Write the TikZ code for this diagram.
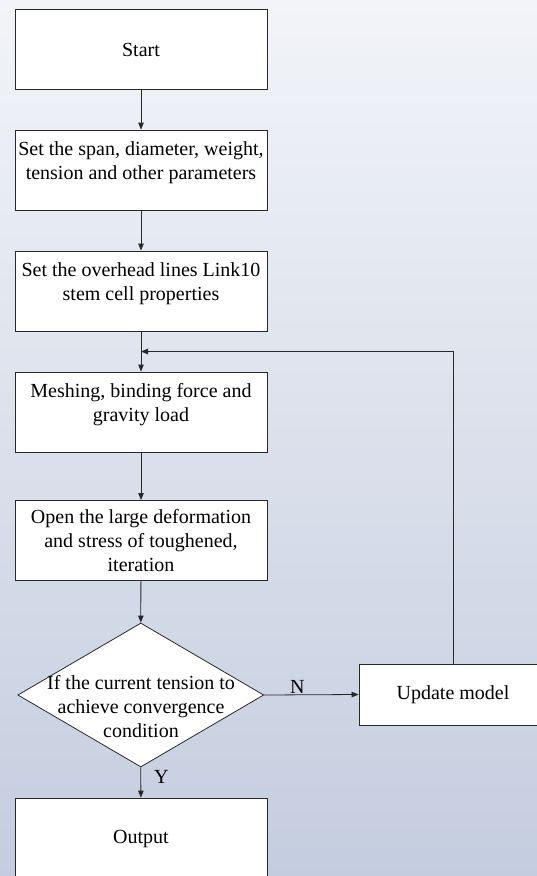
\documentclass[tikz,border=0pt]{standalone}
\usepackage{fontspec}
\setmainfont{Liberation Serif}
\usetikzlibrary{arrows.meta,shapes.geometric,calc}
\definecolor{bgtop}{RGB}{242,244,248}
\definecolor{bgbot}{RGB}{196,205,223}
\definecolor{edge}{RGB}{40,40,40}
\begin{document}
\begin{tikzpicture}[x=1pt,y=-1pt,
  every node/.style={font=\fontsize{20}{24}\selectfont, text=black},
  procbox/.style={draw=edge, line width=0.8pt, fill=white, rectangle,
    minimum width=252pt, minimum height=80pt, inner sep=0pt, align=center},
  decision/.style={draw=edge, line width=0.8pt, fill=white, diamond,
    minimum width=246pt, minimum height=144pt, inner sep=0pt},
  flow/.style={draw=edge, line width=0.8pt, -{Triangle[length=7pt,width=5.5pt]}},
  tag/.style={inner sep=1pt}]
  % page and background
  \useasboundingbox (0,0) rectangle (537,876);
  \shade[top color=bgtop, bottom color=bgbot] (0,0) rectangle (537,876);

  % main column (two-line boxes keep their text near the top)
  \node[procbox] (start) at (141,49.5) {Start};
  \node[procbox] (b2) at (141,170) {Set the span, diameter, weight,\\tension and other parameters\\[-12pt]\strut};
  \node[procbox] (b3) at (141,291) {Set the overhead lines Link10\\stem cell properties\\[-12pt]\strut};
  \node[procbox] (b4) at (141,412) {Meshing, binding force and\\gravity load\\[-12pt]\strut};
  \node[procbox] (b5) at (141,540.5) {Open the large deformation\\and stress of toughened,\\iteration};
  \node[decision] (dec) at (140.8,695) {};
  \node[align=center, inner sep=0pt] (dectext) at (141,707) {If the current tension to\\achieve convergence\\condition};
  \node[procbox, minimum height=82pt] (out) at (141,839) {Output};
  \node[procbox, minimum width=188pt, minimum height=61pt] (upd) at (453,694.5) {Update model};

  % connectors
  \draw[flow] (start) -- (b2);
  \draw[flow] (b2) -- (b3);
  \draw[flow] (b3) -- (b4);
  \draw[flow] (b4) -- (b5);
  \draw[flow] (b5) -- (dec.north);
  \draw[flow] (dec.south) -- node[tag, anchor=west, pos=0.3, xshift=12pt] (ylab) {Y} (out);
  \draw[flow] (dec.east) -- node[tag, anchor=south, pos=0.35] (nlab) {N} (upd.west);
  \coordinate (loopin) at ($(b3.south)!0.5!(b4.north)$);
  \draw[flow] (upd.north) |- (loopin);
\end{tikzpicture}
\end{document}
